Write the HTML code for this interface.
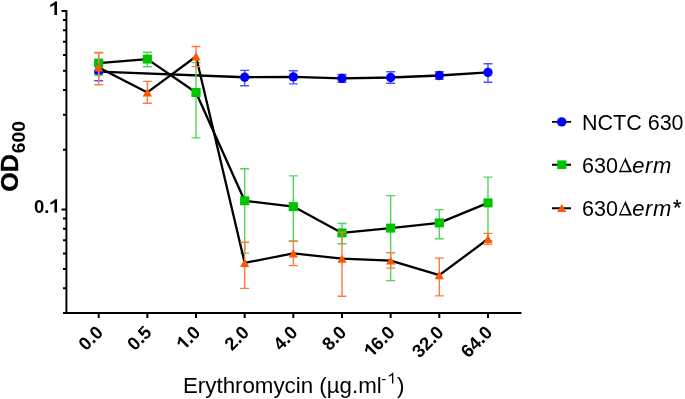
<!DOCTYPE html><html><head><meta charset="utf-8"><style>html,body{margin:0;padding:0;background:#fff;}body{width:685px;height:399px;overflow:hidden;}svg{display:block;will-change:transform;font-family:"Liberation Sans",sans-serif;}</style></head><body><svg width="685" height="399" viewBox="0 0 685 399"><defs><path id="o1" d="M0.30,0H0.44V-0.716H0.335Q0.25,-0.60 0.08,-0.548V-0.425Q0.21,-0.47 0.30,-0.548Z"/><path id="r1" d="M0.318,0H0.408V-0.716H0.35Q0.3,-0.63 0.11,-0.53V-0.445Q0.24,-0.50 0.318,-0.575Z"/></defs><rect width="685" height="399" fill="#fff"/><path d="M66.4,10V314M63,313H521.5M61.5,11.00H66.4M61.5,209.40H66.4M63,20.08H66.4M63,30.23H66.4M63,41.73H66.4M63,55.01H66.4M63,70.72H66.4M63,89.95H66.4M63,114.74H66.4M63,149.68H66.4M63,218.48H66.4M63,228.63H66.4M63,240.13H66.4M63,253.41H66.4M63,269.12H66.4M63,288.35H66.4M98.70,313V318M147.36,313V318M196.02,313V318M244.68,313V318M293.34,313V318M342.00,313V318M390.66,313V318M439.32,313V318M487.98,313V318" stroke="#000" stroke-width="2" fill="none"/><polyline points="98.70,71.70 244.68,77.25 293.34,76.90 342.00,78.40 390.66,77.50 439.32,75.50 487.98,72.40" stroke="#000" stroke-width="2.3" fill="none" stroke-linejoin="round"/><path d="M98.70,63.50V80.80M94.20,63.50H103.20M94.20,80.80H103.20M244.68,70.40V85.70M240.18,70.40H249.18M240.18,85.70H249.18M293.34,70.80V83.90M288.84,70.80H297.84M288.84,83.90H297.84M342.00,74.50V82.30M337.50,74.50H346.50M337.50,82.30H346.50M390.66,71.80V83.20M386.16,71.80H395.16M386.16,83.20H395.16M439.32,71.80V79.20M434.82,71.80H443.82M434.82,79.20H443.82M487.98,63.70V82.30M483.48,63.70H492.48M483.48,82.30H492.48" stroke="#5050ff" stroke-width="1.4" fill="none"/><circle cx="98.70" cy="71.70" r="4.7" fill="#0000ff"/><circle cx="244.68" cy="77.25" r="4.7" fill="#0000ff"/><circle cx="293.34" cy="76.90" r="4.7" fill="#0000ff"/><circle cx="342.00" cy="78.40" r="4.7" fill="#0000ff"/><circle cx="390.66" cy="77.50" r="4.7" fill="#0000ff"/><circle cx="439.32" cy="75.50" r="4.7" fill="#0000ff"/><circle cx="487.98" cy="72.40" r="4.7" fill="#0000ff"/><polyline points="98.70,63.10 147.36,59.10 196.02,92.50 244.68,200.80 293.34,206.60 342.00,232.90 390.66,228.10 439.32,222.90 487.98,202.90" stroke="#000" stroke-width="2.3" fill="none" stroke-linejoin="round"/><path d="M98.70,52.50V75.20M94.20,52.50H103.20M94.20,75.20H103.20M147.36,52.30V66.80M142.86,52.30H151.86M142.86,66.80H151.86M196.02,62.60V137.90M191.52,62.60H200.52M191.52,137.90H200.52M244.68,168.80V253.10M240.18,168.80H249.18M240.18,253.10H249.18M293.34,175.90V241.00M288.84,175.90H297.84M288.84,241.00H297.84M342.00,223.50V243.70M337.50,223.50H346.50M337.50,243.70H346.50M390.66,195.60V280.60M386.16,195.60H395.16M386.16,280.60H395.16M439.32,209.60V238.75M434.82,209.60H443.82M434.82,238.75H443.82M487.98,177.10V240.60M483.48,177.10H492.48M483.48,240.60H492.48" stroke="#52d65a" stroke-width="1.4" fill="none"/><rect x="94.10" y="58.60" width="9.2" height="9" fill="#00c400"/><rect x="142.76" y="54.60" width="9.2" height="9" fill="#00c400"/><rect x="191.42" y="88.00" width="9.2" height="9" fill="#00c400"/><rect x="240.08" y="196.30" width="9.2" height="9" fill="#00c400"/><rect x="288.74" y="202.10" width="9.2" height="9" fill="#00c400"/><rect x="337.40" y="228.40" width="9.2" height="9" fill="#00c400"/><rect x="386.06" y="223.60" width="9.2" height="9" fill="#00c400"/><rect x="434.72" y="218.40" width="9.2" height="9" fill="#00c400"/><rect x="483.38" y="198.40" width="9.2" height="9" fill="#00c400"/><polyline points="98.70,67.50 147.36,92.40 196.02,56.50 244.68,262.90 293.34,253.40 342.00,258.70 390.66,260.60 439.32,275.20 487.98,239.00" stroke="#000" stroke-width="2.3" fill="none" stroke-linejoin="round"/><path d="M98.70,52.70V84.80M94.20,52.70H103.20M94.20,84.80H103.20M147.36,81.40V103.20M142.86,81.40H151.86M142.86,103.20H151.86M196.02,46.50V66.60M191.52,46.50H200.52M191.52,66.60H200.52M244.68,242.30V288.40M240.18,242.30H249.18M240.18,288.40H249.18M293.34,241.40V265.60M288.84,241.40H297.84M288.84,265.60H297.84M342.00,232.10V296.30M337.50,232.10H346.50M337.50,296.30H346.50M390.66,252.75V268.10M386.16,252.75H395.16M386.16,268.10H395.16M439.32,258.10V295.90M434.82,258.10H443.82M434.82,295.90H443.82M487.98,233.40V244.40M483.48,233.40H492.48M483.48,244.40H492.48" stroke="#ff7a40" stroke-width="1.4" fill="none"/><path d="M98.70,63.30L103.30,71.50H94.10Z" fill="#ff5500"/><path d="M147.36,88.20L151.96,96.40H142.76Z" fill="#ff5500"/><path d="M196.02,52.30L200.62,60.50H191.42Z" fill="#ff5500"/><path d="M244.68,258.70L249.28,266.90H240.08Z" fill="#ff5500"/><path d="M293.34,249.20L297.94,257.40H288.74Z" fill="#ff5500"/><path d="M342.00,254.50L346.60,262.70H337.40Z" fill="#ff5500"/><path d="M390.66,256.40L395.26,264.60H386.06Z" fill="#ff5500"/><path d="M439.32,271.00L443.92,279.20H434.72Z" fill="#ff5500"/><path d="M487.98,234.80L492.58,243.00H483.38Z" fill="#ff5500"/><use href="#o1" transform="translate(48.8,14.9) scale(18.7)"/><text x="33.9" y="212.6" font-size="18.5" font-weight="bold">0.</text><use href="#o1" transform="translate(48.9,212.6) scale(18.5)"/><g transform="translate(99.50,328.9) rotate(-45)"><text y="6.5" font-size="18.3" font-weight="bold" text-anchor="end">0.0</text></g><g transform="translate(148.16,328.9) rotate(-45)"><text y="6.5" font-size="18.3" font-weight="bold" text-anchor="end">0.5</text></g><g transform="translate(196.82,328.9) rotate(-45)"><use href="#o1" transform="translate(-25.44,6.5) scale(18.3)"/><text x="-15.26" y="6.5" font-size="18.3" font-weight="bold">.0</text></g><g transform="translate(245.48,328.9) rotate(-45)"><text y="6.5" font-size="18.3" font-weight="bold" text-anchor="end">2.0</text></g><g transform="translate(294.14,328.9) rotate(-45)"><text y="6.5" font-size="18.3" font-weight="bold" text-anchor="end">4.0</text></g><g transform="translate(342.80,328.9) rotate(-45)"><text y="6.5" font-size="18.3" font-weight="bold" text-anchor="end">8.0</text></g><g transform="translate(391.46,328.9) rotate(-45)"><use href="#o1" transform="translate(-35.61,6.5) scale(18.3)"/><text x="-25.44" y="6.5" font-size="18.3" font-weight="bold">6.0</text></g><g transform="translate(440.12,328.9) rotate(-45)"><text y="6.5" font-size="18.3" font-weight="bold" text-anchor="end">32.0</text></g><g transform="translate(488.78,328.9) rotate(-45)"><text y="6.5" font-size="18.3" font-weight="bold" text-anchor="end">64.0</text></g><text transform="translate(18.4,191.8) rotate(-90) scale(1.0,0.95)" font-size="25" font-weight="bold" stroke="#000" stroke-width="0.4">OD</text><text transform="translate(25.1,153.3) rotate(-90) scale(1,0.94)" font-size="19.3" font-weight="bold">600</text><text x="183" y="393" font-size="22.3">Erythromycin (µg.ml</text><text x="381.3" y="383.5" font-size="15">-</text><use href="#r1" transform="translate(387.2,383.5) scale(15)"/><text x="397" y="393" font-size="22.5">)</text><path d="M552,121.9H571M552,164.7H571M552,208.2H571" stroke="#000" stroke-width="1.9" fill="none"/><circle cx="561.7" cy="121.9" r="4.7" fill="#0000ff"/><rect x="557.2" y="160.4" width="9.2" height="8.6" fill="#00c400"/><path d="M561.7,204.1L566.3,212H557.1Z" fill="#ff5500"/><text x="582" y="130.1" font-size="21.5">NCTC 630</text><text x="582" y="172.5" font-size="21.5">630</text><path fill-rule="evenodd" d="M618.8,172.20L625.5,157.40L632,172.20ZM620.68,170.70L629.16,170.70L624.99,161.19Z"/><text x="582" y="215.8" font-size="21.5">630</text><path fill-rule="evenodd" d="M618.8,215.50L625.5,200.70L632,215.50ZM620.68,214.00L629.16,214.00L624.99,204.49Z"/><text x="632.24" y="172.5" font-size="22" font-style="italic" letter-spacing="0.6">erm</text><text x="632.24" y="215.8" font-size="22"><tspan font-style="italic" letter-spacing="0.6">erm</tspan><tspan dx="1.0" dy="-1.0" font-size="21.5" stroke="#000" stroke-width="0.3">*</tspan></text></svg></body></html>
